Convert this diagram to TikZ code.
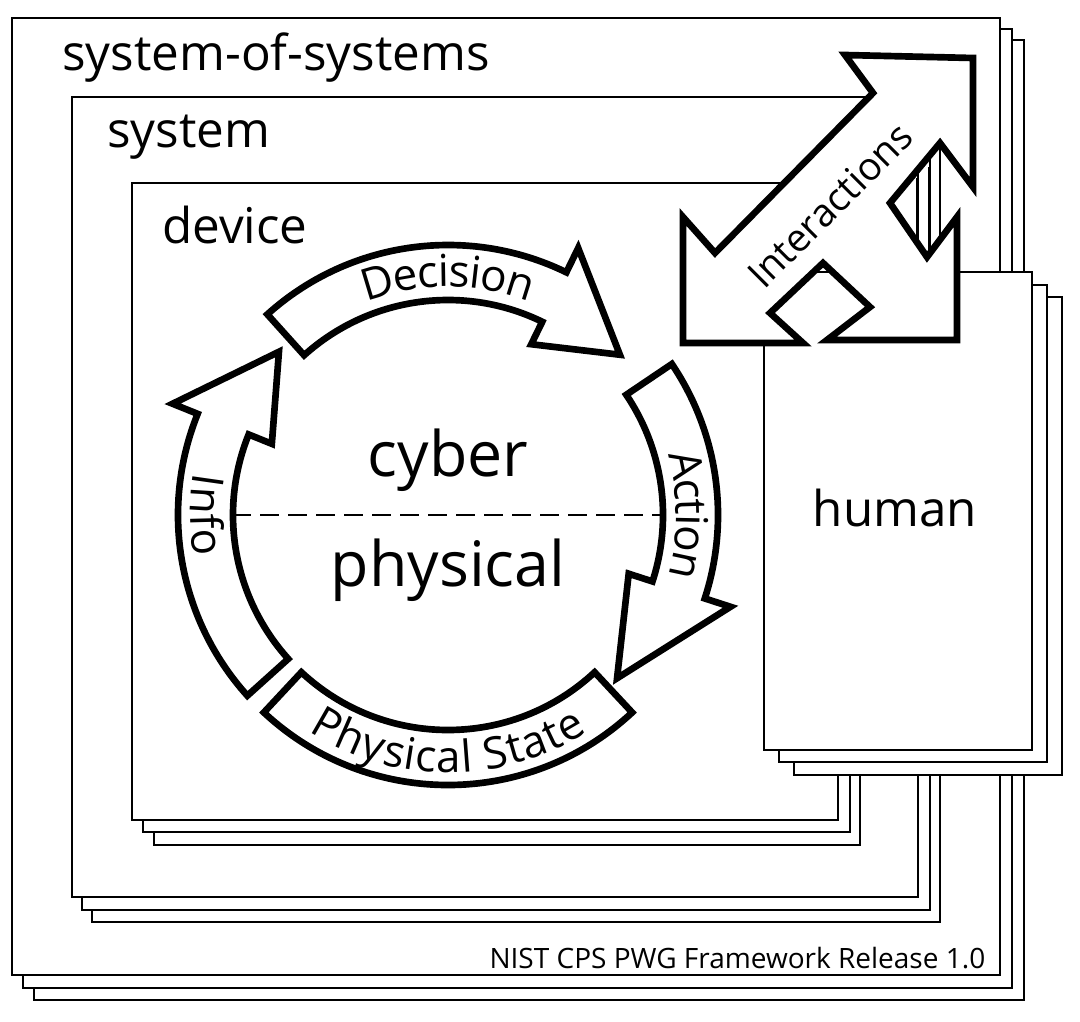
\documentclass[tikz,border=0pt]{standalone}
\usepackage{fontspec}
\setmainfont{Open Sans}
\usetikzlibrary{decorations.text}
\begin{document}
\begin{tikzpicture}[x=0.75pt,y=-0.75pt,
  frame/.style={draw=black,line width=2.2pt,fill=white},
  arr/.style={draw=black,line width=5pt,fill=white,line join=miter},
  lbl/.style={font=\fontsize{37}{40}\selectfont,inner sep=0pt}]
\useasboundingbox (0,0) rectangle (1080,1021);
% system-of-systems
\draw[frame] (34,40) rectangle (1024,1000);
\draw[frame] (23,29) rectangle (1012,988);
\draw[frame] (12,18) rectangle (1000,975);
\node[lbl,anchor=west] (sos) at (62,58) {system-of-systems};
\node[font=\fontsize{21}{22}\selectfont,anchor=east] (nist) at (990,958) {NIST CPS PWG Framework Release 1.0};
% system
\draw[frame] (92,119) rectangle (940,922);
\draw[frame] (82,108) rectangle (930,910);
\draw[frame] (72,97) rectangle (918,897);
\node[lbl,anchor=west] (sys) at (107,137) {system};
% device
\draw[frame] (154,207) rectangle (860,845);
\draw[frame] (143,195) rectangle (850,832);
\draw[frame] (132,183) rectangle (838,820);
\node[lbl,anchor=west] (dev) at (162,225) {device};
% human
\draw[frame] (794,297) rectangle (1062,775);
\draw[frame] (779,285) rectangle (1047,762);
\draw[frame] (764,272) rectangle (1032,750);
\node[lbl] (hum) at (895,508) {human};
% interactions arrow
\draw[arr] (845,55) -- (973,58) -- (973,187) -- (940,143) -- (890,203) -- (927,257) -- (957,217)
  -- (957,340) -- (827,340) -- (870,307) -- (823,263) -- (770,313) -- (803,343)
  -- (683,343) -- (683,217) -- (715,253) -- (873,93) -- cycle;
\draw[line width=2pt] (940,157) -- (940,227);
\draw[line width=1.5pt] (917,178) -- (917,245) (929,167) -- (929,252);
\node[font=\fontsize{29}{32}\selectfont,rotate=45] (inter) at (830,205) {Interactions};
% cycle
\begin{scope}[shift={(448,515)},x=0.75pt,y=0.75pt]
\newcommand\carrow[3]{%
\draw[arr] (#1:270) arc[start angle=#1,end angle=#2,radius=270] -- (#2:297) -- (#3:235) -- (#2:190) -- (#2:215) arc[start angle=#2,end angle=#1,radius=215] -- cycle;}
\carrow{132}{64}{43}
\carrow{34}{-18}{-44}
\carrow{222}{158}{136}
\draw[arr] (-133:270) arc[start angle=-133,end angle=-47,radius=270] -- (-47:215) arc[start angle=-47,end angle=-133,radius=215] -- cycle;
\draw[line width=1.5pt,dash pattern=on 14pt off 7pt] (180:216) -- (0:216);
\node[font=\fontsize{47}{50}\selectfont] (cyber) at (0,55) {cyber};
\node[font=\fontsize{47}{50}\selectfont] (phys) at (0,-55) {physical};
\path[decorate,decoration={text along path,text align=center,raise=-11pt,text={|\fontsize{33}{35}\selectfont|Decision}}] (130:243) arc[start angle=130,end angle=50,radius=243];
\path[decorate,decoration={text along path,text align=center,raise=-11pt,text={|\fontsize{33}{35}\selectfont|Action}}] (35:243) arc[start angle=35,end angle=-35,radius=243];
\path[decorate,decoration={text along path,text align=center,raise=-11pt,text={|\fontsize{33}{35}\selectfont|Info}}] (155:243) arc[start angle=155,end angle=205,radius=243];
\path[decorate,decoration={text along path,text align=center,raise=-11pt,text={|\fontsize{33}{35}\selectfont|Physical State}}] (-150:243) arc[start angle=-150,end angle=-30,radius=243];
\end{scope}
\end{tikzpicture}
\end{document}
